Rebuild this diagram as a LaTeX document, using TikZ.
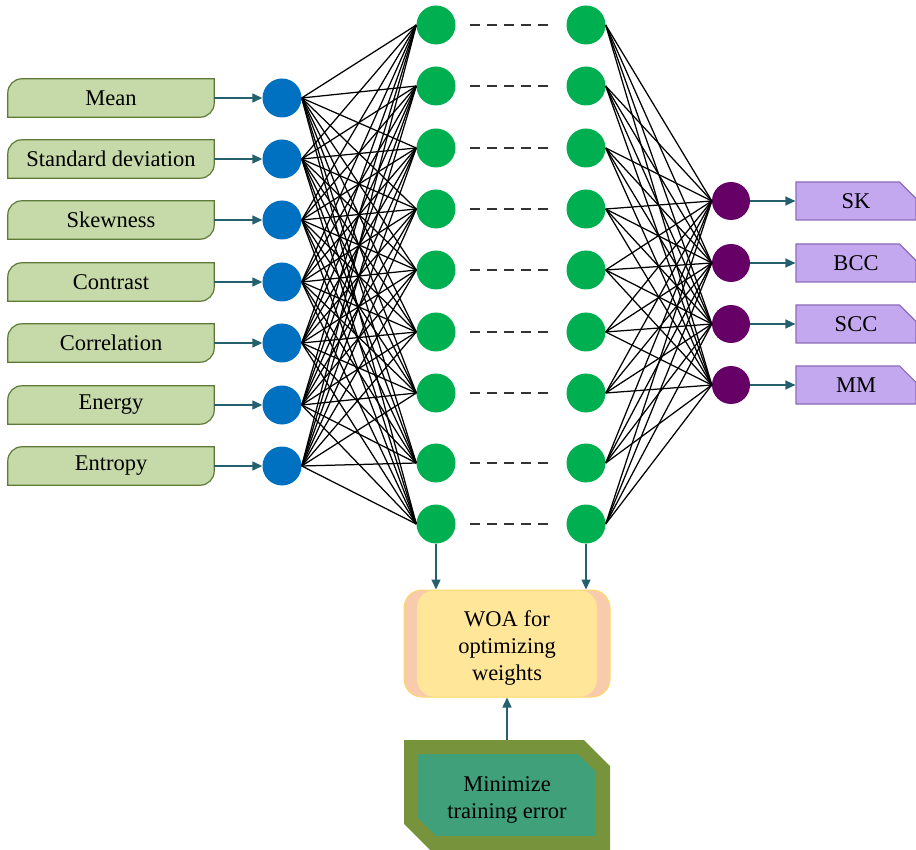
\documentclass[tikz,border=0pt]{standalone}
\usepackage{fontspec}
\setmainfont{Liberation Serif}
\usetikzlibrary{arrows.meta,positioning,shapes.misc,backgrounds}
\definecolor{featfill}{HTML}{C6D9A8}
\definecolor{featline}{HTML}{5E7A38}
\definecolor{inblue}{HTML}{0070C0}
\definecolor{hidgreen}{HTML}{00B050}
\definecolor{outpurple}{HTML}{660066}
\definecolor{outfill}{HTML}{C3A8F0}
\definecolor{outline}{HTML}{8C6BB8}
\definecolor{arrteal}{HTML}{25606E}
\definecolor{woapeach}{HTML}{F8CBAD}
\definecolor{woayellow}{HTML}{FFE699}
\definecolor{woaline}{HTML}{FFD966}
\definecolor{minolive}{HTML}{77933C}
\definecolor{minteal}{HTML}{40A07A}
\tikzset{
  flowarr/.style={-{Triangle[length=10pt,width=9pt]}, line width=1.4pt, draw=arrteal},
  netline/.style={line width=1.25pt, draw=black},
  neuron/.style={circle, minimum size=39pt, inner sep=0pt},
}

\begin{document}
\begin{tikzpicture}[
  x=1pt, y=1pt,
  font=\fontsize{22.5}{27}\selectfont,
  featbox/.style={minimum width=206pt, minimum height=38pt, inner sep=0pt},
  featshape/.style={fill=featfill, draw=featline, line width=1.2pt},
  outbox/.style={chamfered rectangle, chamfered rectangle corners=north east,
    chamfered rectangle xsep=10pt, chamfered rectangle ysep=9pt,
    minimum width=120pt, minimum height=38pt, inner sep=0pt,
    fill=outfill, draw=outline, line width=1.2pt},
  gap/.style={dash pattern=on 10pt off 7pt, line width=1.8pt, draw=black!80,
    shorten <=14.5pt, shorten >=17.5pt},
]
  \useasboundingbox (0,0) rectangle (916,-850);

  % input features
  \foreach \name/\yy [count=\i] in {Mean/98, Standard deviation/159, Skewness/220,
      Contrast/282, Correlation/343, Energy/405, Entropy/466} {
    \node[featbox] (f\i) at (111,-\yy) {\name};
    \begin{scope}[on background layer]
      \filldraw[featshape] (f\i.south west) -- ([yshift=-14pt]f\i.north west)
        arc[start angle=180, end angle=90, radius=14] -- (f\i.north east)
        -- ([yshift=14pt]f\i.south east)
        arc[start angle=0, end angle=-90, radius=14] -- cycle;
    \end{scope}
    \node[neuron, fill=inblue] (b\i) at (282,-\yy) {};
    \draw[flowarr] (f\i.east) -- (b\i.west);
  }

  % hidden layers
  \foreach \yy [count=\j] in {25, 86, 148, 209, 270, 332, 393, 463, 524} {
    \node[neuron, fill=hidgreen] (g\j) at (436,-\yy) {};
    \node[neuron, fill=hidgreen] (h\j) at (586,-\yy) {};
    \draw[gap] (g\j.east) -- (h\j.west);
  }

  % outputs
  \foreach \name/\yy [count=\k] in {SK/201, BCC/263, SCC/324, MM/385} {
    \node[neuron, minimum size=38pt, fill=outpurple] (o\k) at (731,-\yy) {};
    \node[outbox] (t\k) at (856,-\yy) {\name};
    \draw[flowarr] (o\k.east) -- (t\k.west);
  }

  % full connections
  \foreach \i in {1,...,7}
    \foreach \j in {1,...,9}
      \draw[netline] (b\i.east) -- (g\j.west);
  \foreach \j in {1,...,9}
    \foreach \k in {1,...,4}
      \draw[netline] (h\j.east) -- (o\k.west);

  % optimizer
  \node[minimum width=206pt, minimum height=107pt, rounded corners=18pt,
    fill=woapeach, draw=woaline, line width=1pt, align=center,
    path picture={\fill[woayellow, rounded corners=18pt]
      ([xshift=13pt]path picture bounding box.south west) rectangle
      ([xshift=-13pt]path picture bounding box.north east);}]
    (woa) at (507,-643.5) {\rule{0pt}{24pt}WOA for\\optimizing\\weights};
  \node[chamfered rectangle, chamfered rectangle corners={north east, south west},
    chamfered rectangle xsep=11pt, chamfered rectangle ysep=11pt,
    minimum width=192pt, minimum height=96pt, inner sep=0pt,
    fill=minteal, draw=minolive, line width=14pt, align=center]
    (mini) at (507,-795) {\rule{0pt}{24pt}Minimize\\training error};

  \draw[flowarr] (g9.south) -- (g9.south |- woa.north);
  \draw[flowarr] (h9.south) -- (h9.south |- woa.north);
  \draw[flowarr] (mini.north) -- (woa.south);
\end{tikzpicture}
\end{document}
